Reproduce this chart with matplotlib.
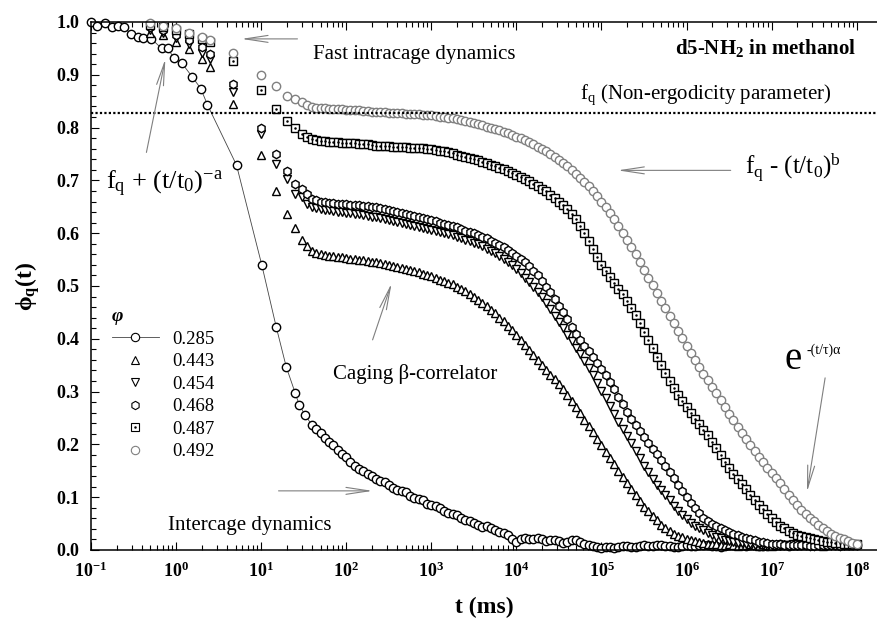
import numpy as np
import matplotlib
matplotlib.use('Agg')
import matplotlib.pyplot as plt
from matplotlib.lines import Line2D
from matplotlib.ticker import FixedLocator, MultipleLocator, FuncFormatter, NullFormatter

plt.rcParams['font.family'] = ['Liberation Serif', 'DejaVu Serif']
plt.rcParams['mathtext.fontset'] = 'custom'
plt.rcParams['mathtext.rm'] = 'Liberation Serif'
plt.rcParams['mathtext.it'] = 'Liberation Serif:italic'
plt.rcParams['mathtext.bf'] = 'Liberation Serif:bold'

# common lag times of the correlator (ms), t >= 40 ms
t_grid = [3.98e1, 4.47e1, 5.01e1, 5.62e1, 6.31e1, 7.08e1, 7.94e1, 8.91e1,
          1.00e2, 1.12e2, 1.26e2, 1.41e2, 1.58e2, 1.78e2, 2.00e2, 2.24e2, 2.51e2, 2.82e2,
          3.16e2, 3.55e2, 3.98e2, 4.47e2, 5.01e2, 5.62e2, 6.31e2, 7.08e2, 7.94e2, 8.91e2,
          1.00e3, 1.12e3, 1.26e3, 1.41e3, 1.58e3, 1.78e3, 2.00e3, 2.24e3, 2.51e3, 2.82e3,
          3.16e3, 3.55e3, 3.98e3, 4.47e3, 5.01e3, 5.62e3, 6.31e3, 7.08e3, 7.94e3, 8.91e3,
          1.00e4, 1.12e4, 1.26e4, 1.41e4, 1.58e4, 1.78e4, 2.00e4, 2.24e4, 2.51e4, 2.82e4,
          3.16e4, 3.55e4, 3.98e4, 4.47e4, 5.01e4, 5.62e4, 6.31e4, 7.08e4, 7.94e4, 8.91e4,
          1.00e5, 1.12e5, 1.26e5, 1.41e5, 1.58e5, 1.78e5, 2.00e5, 2.24e5, 2.51e5, 2.82e5,
          3.16e5, 3.55e5, 3.98e5, 4.47e5, 5.01e5, 5.62e5, 6.31e5, 7.08e5, 7.94e5, 8.91e5,
          1.00e6, 1.12e6, 1.26e6, 1.41e6, 1.58e6, 1.78e6, 2.00e6, 2.24e6, 2.51e6, 2.82e6,
          3.16e6, 3.55e6, 3.98e6, 4.47e6, 5.01e6, 5.62e6, 6.31e6, 7.08e6, 7.94e6, 8.91e6,
          1.00e7, 1.12e7, 1.26e7, 1.41e7, 1.58e7, 1.78e7, 2.00e7, 2.24e7, 2.51e7, 2.82e7,
          3.16e7, 3.55e7, 3.98e7, 4.47e7, 5.01e7, 5.62e7, 6.31e7, 7.08e7, 7.94e7, 8.91e7,
          1.00e8]

# short lag times (ms)
t_early_285 = [0.1, 0.117, 0.148, 0.178, 0.209, 0.245, 0.295, 0.355, 0.407, 0.513, 0.676,
               0.794, 0.955, 1.17, 1.55, 1.95, 2.34, 5.13, 10.2, 15.0, 19.7, 25.0, 28.0, 33.0]
t_early = [0.5, 0.7, 1.0, 1.4, 2.0, 2.5, 4.7, 10.0, 15.0, 20.0, 25.0, 30.0, 35.0]

phi_early_285 = [1.0, 0.992, 0.998, 0.99, 0.993, 0.99, 0.977, 0.972, 0.97, 0.968, 0.95,
                 0.95, 0.931, 0.922, 0.896, 0.874, 0.843, 0.729, 0.539, 0.423, 0.347, 0.298, 0.275, 0.255]
phi_early_443 = [0.98, 0.975, 0.962, 0.948, 0.93, 0.915, 0.845, 0.748, 0.68, 0.636, 0.609, 0.588, 0.575]
phi_early_454 = [0.985, 0.98, 0.97, 0.958, 0.942, 0.93, 0.868, 0.787, 0.732, 0.702, 0.674, 0.668, 0.655]
phi_early_468 = [0.99, 0.985, 0.976, 0.965, 0.952, 0.94, 0.882, 0.80, 0.75, 0.717, 0.693, 0.683, 0.674]
phi_early_487 = [0.995, 0.99, 0.985, 0.977, 0.968, 0.962, 0.926, 0.871, 0.836, 0.812, 0.799, 0.787, 0.782]
phi_early_492 = [0.998, 0.993, 0.988, 0.98, 0.972, 0.966, 0.941, 0.90, 0.879, 0.86, 0.854, 0.848, 0.842]

phi_285 = [0.236, 0.229, 0.221, 0.212, 0.204, 0.198, 0.190, 0.182,
           0.176, 0.167, 0.160, 0.154, 0.149, 0.143, 0.140, 0.134, 0.130, 0.128,
           0.124, 0.118, 0.114, 0.112, 0.109, 0.103, 0.099, 0.097, 0.094, 0.088,
           0.085, 0.083, 0.080, 0.074, 0.071, 0.069, 0.066, 0.060, 0.057, 0.055,
           0.052, 0.047, 0.044, 0.045, 0.042, 0.038, 0.035, 0.033, 0.029, 0.021,
           0.016, 0.020, 0.023, 0.021, 0.020, 0.022, 0.021, 0.017, 0.018, 0.019,
           0.017, 0.014, 0.015, 0.018, 0.019, 0.015, 0.011, 0.009, 0.007, 0.005,
           0.004, 0.005, 0.006, 0.004, 0.005, 0.007, 0.008, 0.006, 0.006, 0.008,
           0.009, 0.007, 0.007, 0.009, 0.010, 0.008, 0.008, 0.006, 0.006, 0.008,
           0.009, 0.008, 0.007, 0.009, 0.010, 0.009, 0.008, 0.007, 0.006, 0.008,
           0.009, 0.010, 0.011, 0.009, 0.008, 0.009, 0.010, 0.008, 0.007, 0.008,
           0.009, 0.010, 0.011, 0.009, 0.008, 0.009, 0.010, 0.010, 0.009, 0.011,
           0.012, 0.011, 0.010, 0.010, 0.011, 0.010, 0.009, 0.011, 0.012, 0.011,
           0.010]
phi_443 = [0.566, 0.563, 0.560, 0.558, 0.557, 0.556, 0.555, 0.554,
           0.553, 0.552, 0.551, 0.550, 0.549, 0.548, 0.546, 0.545, 0.543, 0.542,
           0.540, 0.538, 0.536, 0.534, 0.532, 0.530, 0.528, 0.526, 0.523, 0.521,
           0.518, 0.515, 0.512, 0.509, 0.506, 0.503, 0.499, 0.495, 0.490, 0.485,
           0.480, 0.474, 0.468, 0.462, 0.455, 0.448, 0.440, 0.433, 0.425, 0.416,
           0.407, 0.398, 0.388, 0.378, 0.369, 0.360, 0.350, 0.341, 0.332, 0.323,
           0.314, 0.304, 0.293, 0.282, 0.270, 0.259, 0.247, 0.235, 0.223, 0.211,
           0.199, 0.186, 0.174, 0.162, 0.150, 0.138, 0.127, 0.115, 0.104, 0.093,
           0.082, 0.073, 0.064, 0.056, 0.048, 0.042, 0.036, 0.031, 0.027, 0.024,
           0.021, 0.019, 0.017, 0.015, 0.014, 0.012, 0.012, 0.011, 0.010, 0.009,
           0.011, 0.009, 0.008, 0.009, 0.010, 0.011, 0.009, 0.008, 0.011, 0.010,
           0.008, 0.009, 0.010, 0.011, 0.012, 0.010, 0.009, 0.010, 0.011, 0.009,
           0.010, 0.009, 0.008, 0.010, 0.011, 0.012, 0.010, 0.009, 0.009, 0.010,
           0.011]
phi_454 = [0.650, 0.647, 0.645, 0.644, 0.643, 0.642, 0.641, 0.640,
           0.639, 0.638, 0.637, 0.636, 0.634, 0.633, 0.631, 0.630, 0.628, 0.627,
           0.625, 0.623, 0.621, 0.619, 0.617, 0.616, 0.614, 0.612, 0.610, 0.608,
           0.606, 0.604, 0.602, 0.600, 0.598, 0.596, 0.593, 0.591, 0.588, 0.585,
           0.582, 0.579, 0.575, 0.571, 0.566, 0.562, 0.557, 0.551, 0.545, 0.539,
           0.532, 0.524, 0.516, 0.508, 0.499, 0.489, 0.479, 0.468, 0.456, 0.444,
           0.432, 0.420, 0.407, 0.395, 0.383, 0.371, 0.358, 0.345, 0.332, 0.317,
           0.302, 0.287, 0.272, 0.257, 0.243, 0.230, 0.216, 0.202, 0.188, 0.174,
           0.160, 0.147, 0.135, 0.124, 0.114, 0.104, 0.094, 0.084, 0.074, 0.066,
           0.058, 0.052, 0.046, 0.041, 0.037, 0.033, 0.029, 0.025, 0.022, 0.019,
           0.017, 0.015, 0.014, 0.013, 0.012, 0.011, 0.010, 0.011, 0.009, 0.008,
           0.009, 0.010, 0.008, 0.009, 0.010, 0.011, 0.012, 0.010, 0.009, 0.010,
           0.011, 0.010, 0.008, 0.009, 0.010, 0.009, 0.009, 0.010, 0.011, 0.010,
           0.010]
phi_468 = [0.664, 0.662, 0.660, 0.659, 0.658, 0.657, 0.656, 0.656,
           0.655, 0.654, 0.653, 0.653, 0.652, 0.651, 0.650, 0.649, 0.647, 0.646,
           0.644, 0.642, 0.640, 0.638, 0.636, 0.635, 0.633, 0.631, 0.629, 0.627,
           0.625, 0.623, 0.620, 0.618, 0.616, 0.614, 0.611, 0.608, 0.605, 0.603,
           0.600, 0.597, 0.593, 0.590, 0.586, 0.582, 0.578, 0.573, 0.568, 0.563,
           0.557, 0.551, 0.545, 0.537, 0.529, 0.520, 0.510, 0.499, 0.488, 0.476,
           0.463, 0.450, 0.437, 0.423, 0.410, 0.398, 0.387, 0.376, 0.366, 0.355,
           0.343, 0.331, 0.318, 0.304, 0.290, 0.276, 0.262, 0.249, 0.236, 0.225,
           0.214, 0.203, 0.192, 0.181, 0.170, 0.159, 0.148, 0.136, 0.124, 0.112,
           0.100, 0.089, 0.079, 0.070, 0.061, 0.055, 0.050, 0.046, 0.042, 0.038,
           0.035, 0.031, 0.028, 0.025, 0.022, 0.020, 0.018, 0.016, 0.015, 0.013,
           0.012, 0.011, 0.011, 0.010, 0.010, 0.009, 0.009, 0.010, 0.010, 0.008,
           0.008, 0.009, 0.009, 0.010, 0.010, 0.009, 0.008, 0.009, 0.009, 0.010,
           0.010]
phi_487 = [0.778, 0.776, 0.775, 0.774, 0.773, 0.772, 0.772, 0.771,
           0.771, 0.770, 0.770, 0.769, 0.768, 0.768, 0.767, 0.766, 0.766, 0.765,
           0.765, 0.764, 0.764, 0.763, 0.763, 0.762, 0.762, 0.761, 0.761, 0.760,
           0.759, 0.758, 0.756, 0.755, 0.753, 0.751, 0.749, 0.747, 0.745, 0.743,
           0.740, 0.738, 0.735, 0.733, 0.730, 0.727, 0.724, 0.721, 0.717, 0.714,
           0.710, 0.706, 0.702, 0.698, 0.693, 0.689, 0.684, 0.679, 0.673, 0.667,
           0.660, 0.653, 0.645, 0.637, 0.627, 0.614, 0.600, 0.585, 0.570, 0.555,
           0.540, 0.528, 0.517, 0.506, 0.495, 0.484, 0.472, 0.459, 0.445, 0.429,
           0.413, 0.398, 0.382, 0.366, 0.350, 0.335, 0.320, 0.307, 0.294, 0.282,
           0.270, 0.259, 0.249, 0.239, 0.228, 0.217, 0.205, 0.193, 0.180, 0.167,
           0.155, 0.144, 0.134, 0.125, 0.115, 0.105, 0.095, 0.086, 0.077, 0.068,
           0.060, 0.053, 0.046, 0.041, 0.036, 0.032, 0.029, 0.026, 0.024, 0.022,
           0.020, 0.018, 0.017, 0.016, 0.015, 0.014, 0.013, 0.012, 0.012, 0.011,
           0.011]
phi_492 = [0.839, 0.838, 0.838, 0.837, 0.836, 0.836, 0.835, 0.835,
           0.834, 0.834, 0.833, 0.833, 0.832, 0.831, 0.830, 0.830, 0.829, 0.829,
           0.828, 0.828, 0.827, 0.827, 0.826, 0.826, 0.825, 0.825, 0.824, 0.824,
           0.823, 0.822, 0.821, 0.820, 0.819, 0.818, 0.816, 0.814, 0.812, 0.810,
           0.808, 0.806, 0.804, 0.802, 0.800, 0.798, 0.795, 0.792, 0.789, 0.786,
           0.783, 0.780, 0.776, 0.772, 0.768, 0.764, 0.759, 0.755, 0.750, 0.745,
           0.739, 0.733, 0.727, 0.720, 0.713, 0.705, 0.697, 0.689, 0.680, 0.670,
           0.660, 0.649, 0.638, 0.626, 0.614, 0.601, 0.588, 0.574, 0.560, 0.546,
           0.531, 0.516, 0.501, 0.487, 0.472, 0.458, 0.443, 0.429, 0.415, 0.401,
           0.387, 0.374, 0.360, 0.347, 0.334, 0.322, 0.309, 0.297, 0.284, 0.271,
           0.258, 0.246, 0.233, 0.222, 0.210, 0.199, 0.188, 0.177, 0.166, 0.156,
           0.146, 0.136, 0.126, 0.116, 0.105, 0.095, 0.085, 0.076, 0.068, 0.061,
           0.054, 0.047, 0.041, 0.036, 0.031, 0.027, 0.023, 0.020, 0.017, 0.014,
           0.012]

volume_fractions = ['0.285', '0.443', '0.454', '0.468', '0.487', '0.492']
f_q = 0.828
decades = [-1, 0, 1, 2, 3, 4, 5, 6, 7, 8]

fig = plt.figure(figsize=(8.77, 6.19), dpi=100)
ax = fig.add_axes([91 / 877, 69 / 619, 786 / 877, 528 / 619])
ax.set_xscale('log')
ax.set_xlim(0.1, 1.73e8)
ax.set_ylim(0, 1.0)

mk = dict(mfc='white', mec='black', mew=1.0, ms=6, ls='none', clip_on=False)

ax.plot(t_early_285 + t_grid, phi_early_285 + phi_285, marker='o', color='#444444',
        lw=0.6, mfc='white', mec='black', mew=1.0, ms=6, clip_on=False)
ax.plot(t_early + t_grid, phi_early_443 + phi_443, marker='^', **mk)
ax.plot(t_early + t_grid, phi_early_454 + phi_454, marker='v', **mk)
ax.plot(t_early + t_grid, phi_early_468 + phi_468, marker='h', **mk)
ax.plot(t_early + t_grid, phi_early_487 + phi_487, marker='s', **mk)
ax.plot(t_early + t_grid, phi_early_487 + phi_487, marker='o', ms=1.8, mfc='black',
        mec='black', mew=0, ls='none', clip_on=False)
ax.plot(t_early + t_grid, phi_early_492 + phi_492, marker='o', mfc='white', mec='#808080',
        mew=1.0, ms=6, ls='none', clip_on=False)

ax.axhline(f_q, color='black', lw=1.6, ls=(0, (1, 1)))

# axes, ticks
for side in ['left', 'bottom', 'top']:
    ax.spines[side].set_linewidth(1.1)
ax.spines['right'].set_visible(False)
major_t = [10.0 ** d for d in decades]
minor_t = [m * 10.0 ** d for d in decades for m in range(2, 10)]
ax.xaxis.set_major_locator(FixedLocator(major_t))
ax.xaxis.set_minor_locator(FixedLocator(minor_t))
ax.xaxis.set_major_formatter(FuncFormatter(lambda v, p: r'$\mathbf{10^{%d}}$' % round(np.log10(v))))
ax.xaxis.set_minor_formatter(NullFormatter())
ax.yaxis.set_major_locator(MultipleLocator(0.1))
ax.yaxis.set_minor_locator(MultipleLocator(0.02))
ax.yaxis.set_major_formatter(FuncFormatter(lambda v, p: r'$\mathbf{%.1f}$' % v))
ax.tick_params(which='both', direction='in', top=True, right=False, width=0.8)
ax.tick_params(which='major', length=6, labelsize=13, pad=8)
ax.tick_params(which='minor', length=3.5)

ax.set_xlabel('t (ms)', fontsize=17, fontweight='bold', labelpad=12)
ax.set_ylabel(r'$\mathbf{\phi_q(t)}$', fontsize=17, labelpad=10)

# legend
h_285 = Line2D([], [], color='#444444', lw=0.6, marker='o', mfc='white', mec='black', mew=0.8, ms=6)
h_443 = Line2D([], [], ls='none', marker='^', mfc='white', mec='black', mew=0.8, ms=6)
h_454 = Line2D([], [], ls='none', marker='v', mfc='white', mec='black', mew=0.8, ms=6)
h_468 = Line2D([], [], ls='none', marker='h', mfc='white', mec='black', mew=0.8, ms=6)
h_487 = (Line2D([], [], ls='none', marker='s', mfc='white', mec='black', mew=0.8, ms=6),
         Line2D([], [], ls='none', marker='o', mfc='black', mec='black', mew=0, ms=1.8))
h_492 = Line2D([], [], ls='none', marker='o', mfc='white', mec='#808080', mew=0.8, ms=6)
ax.legend([h_285, h_443, h_454, h_468, h_487, h_492], volume_fractions,
          loc='upper left', bbox_to_anchor=(112 / 877, 1 - 308 / 619),
          bbox_transform=fig.transFigure, frameon=False, fontsize=13.5,
          handlelength=2.5, handletextpad=0.7, labelspacing=0.29, borderpad=0,
          borderaxespad=0, numpoints=1, title='φ',
          title_fontproperties={'style': 'italic', 'weight': 'bold', 'size': 14},
          alignment='left')

# annotations
arrow = dict(arrowstyle='->,head_length=1.65,head_width=0.25', color='#7f7f7f',
             lw=0.8, shrinkA=0, shrinkB=0, mutation_scale=10)
ax.annotate('', xy=(5.86, 0.968), xytext=(26.7, 0.968), arrowprops=arrow)
ax.annotate('', xy=(0.748, 0.930), xytext=(0.448, 0.753), arrowprops=arrow)
ax.annotate('', xy=(1.55e5, 0.719), xytext=(3.3e6, 0.719), arrowprops=arrow)
ax.annotate('', xy=(341, 0.505), xytext=(204, 0.398), arrowprops=arrow)
ax.annotate('', xy=(204, 0.112), xytext=(16.0, 0.112), arrowprops=arrow)
ax.annotate('', xy=(2.6e7, 0.110), xytext=(4.25e7, 0.326), arrowprops=arrow)

ax.text(40.2, 0.930, 'Fast intracage dynamics', fontsize=15, va='baseline')
ax.text(1.0e8, 0.939, r'd5-NH$_\mathbf{2}$ in methanol', fontsize=15, fontweight='bold',
        ha='right', va='baseline')
ax.text(5.58e4, 0.854, r'f$_\mathrm{q}$ (Non-ergodicity parameter)', fontsize=15, va='baseline')
ax.text(4.86e6, 0.712, r'f$_\mathrm{q}$ - (t/t$_\mathrm{0}$)$^\mathrm{b}$', fontsize=18, va='baseline')
ax.text(0.152, 0.683, r'f$_\mathrm{q}$ + (t/t$_\mathrm{0}$)$^\mathrm{-a}$', fontsize=19, va='baseline')
ax.text(69.2, 0.3245, 'Caging β-correlator', fontsize=15, va='baseline')
ax.text(0.794, 0.038, 'Intercage dynamics', fontsize=15, va='baseline')
ax.text(1.43e7, 0.342, 'e', fontsize=28, va='baseline')
ax.text(2.55e7, 0.372, '-(t/τ)α', fontsize=10, va='baseline')

fig.savefig('out.png', dpi=100)
